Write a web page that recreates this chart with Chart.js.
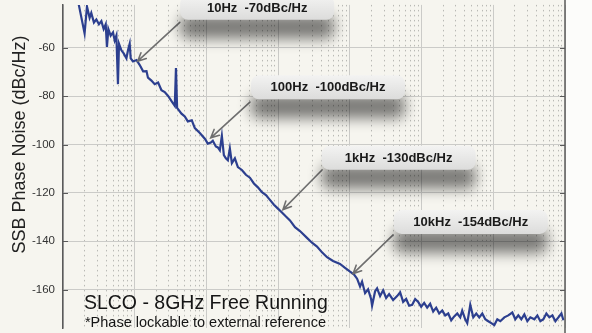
<!DOCTYPE html>
<html>
<head>
<meta charset="utf-8">
<script src="https://cdn.jsdelivr.net/npm/chart.js@4/dist/chart.umd.min.js"></script>
<style>
  html, body { margin: 0; padding: 0; background: #f6f5ef; overflow: hidden; }
  #wrap { position: absolute; left: 0; top: -10px; width: 592px; height: 353px; }
</style>
</head>
<body>
<div id="wrap"><canvas id="chart"></canvas></div>
<script>
// SSB phase noise trace: offset frequency (Hz) and level (dBc/Hz)
const freqHz = [
    1.5, 1.67, 2.0, 2.16, 2.35, 2.48, 2.70, 2.92, 3.17, 3.43, 3.69, 3.94, 4.10, 4.29, 4.62, 4.98,
    5.26, 5.55, 5.84, 6.04, 6.52, 7.02, 7.66, 8.06, 8.51, 8.79, 9.47, 10.6, 11.7, 13.1, 14.6, 15.3,
    17.1, 19.0, 21.2, 23.6, 26.2, 29.2, 32.6, 36.2, 37.6, 39.0, 44.9, 49.9, 55.0, 62.5, 68.9, 80.9,
    95.0, 104.6, 115.2, 122.8, 135.3, 144.3, 153.8, 164.1, 175.0, 186.6, 199.0, 212.2, 226.4, 249.3,
    274.5, 312, 355, 404, 459, 522, 594, 676, 768, 874, 994, 1130, 1285, 1462, 1717, 2015,
    2525, 2965, 3483, 4090, 4806, 5825, 7295, 8570, 10070, 11450, 12610, 13880, 14800, 16300, 17960, 19780,
    20420, 22490, 23990, 26400, 29100, 32060, 35280, 40110, 45620, 50250, 55340, 60960, 67120, 73930, 81430, 89700,
    98700, 108700, 119700, 131800, 145200, 159900, 176100, 194000, 213700, 235400, 259000, 285300, 314300, 346200, 368900, 406300,
    433500, 477500, 525800, 579200, 637300, 702100, 773300, 851800, 938200, 1033000, 1138000, 1253000, 1426000, 1620000, 1842000, 2028000,
    2234000, 2460000, 2710000, 2985000, 3288000, 3740000, 4120000, 4535000, 4995000, 5500000, 6057000, 6670000, 7346000, 8091000, 8912000, 9500000
];
const noiseDbc = [
    -36.0, -42.5, -54.0, -42.9, -47.5, -45.5, -49.5, -48.2, -50.2, -48.9, -52.2, -50.2, -59.6, -52.2, -54.9, -53.6,
    -56.9, -54.9, -75.0, -58.3, -61.0, -62.3, -64.3, -61.0, -58.3, -64.3, -65.6, -65.0, -67.0, -69.7, -69.6, -72.3,
    -73.5, -75.0, -74.3, -77.5, -78.3, -79.9, -82.0, -84.0, -68.3, -84.8, -87.2, -88.4, -90.4, -90.0, -93.2, -95.2,
    -97.6, -99.6, -99.2, -98.4, -100.8, -101.2, -102.4, -96.4, -104.4, -105.7, -106.5, -101.6, -107.7, -105.7,
    -109.3, -110.5, -112.5, -113.7, -116.1, -117.7, -119.7, -120.9, -122.9, -124.9, -126.5, -128.1, -129.8, -131.4, -134.2, -135.8,
    -138.6, -140.6, -142.2, -144.6, -146.6, -148.2, -149.4, -151.0, -152.6, -153.8, -155.5, -158.7, -156.7, -161.5, -159.9, -163.9,
    -166.7, -160.7, -159.5, -162.7, -160.3, -163.5, -161.9, -164.3, -162.7, -161.1, -165.1, -163.9, -166.7, -166.3, -163.9, -165.1,
    -167.1, -165.5, -167.5, -165.9, -169.1, -167.5, -169.9, -168.7, -170.7, -169.9, -172.7, -171.1, -169.9, -171.5, -168.7, -172.3,
    -173.9, -166.3, -171.5, -169.9, -171.5, -169.9, -172.3, -173.1, -173.9, -174.7, -172.3, -173.1, -171.5, -170.7, -169.5, -172.3,
    -170.7, -172.3, -170.3, -173.1, -171.5, -172.3, -170.7, -173.1, -172.3, -169.9, -171.5, -170.7, -173.1, -171.5, -169.9, -172.7
];

const levelTicks = [-160, -140, -120, -100, -80, -60];

// callouts: label, box centre and arrow ends, all in data units (Hz, dBc/Hz)
const calloutText = ['10Hz  -70dBc/Hz', '100Hz  -100dBc/Hz', '1kHz  -130dBc/Hz', '10kHz  -154dBc/Hz'];
const calloutFreq = [510, 4960, 47900, 485000];
const calloutLevel = [-43.4, -76.3, -105.5, -132.0];
const arrowTipFreq = [11, 115, 1167, 11090];
const arrowTipLevel = [-65.5, -97.2, -126.9, -153.4];
const arrowTailFreq = [42.5, 404, 4090, 40100];
const arrowTailLevel = [-49.4, -82.4, -110.5, -137.4];

const COLORS = {
    page: '#f6f5ef',
    margin: '#fcfcfa',
    trace: '#2c3f8f',
    grid: '#cbcbc8',
    minorGrid: '#b9b9b5',
    axis: '#5a5a5a',
    text: '#222222',
    arrow: '#6f6f6f'
};
const FONT = '"Liberation Sans", Arial, Helvetica, sans-serif';

const backdrop = {
    id: 'backdrop',
    beforeDraw(chart) {
        const { ctx, chartArea } = chart;
        ctx.save();
        ctx.fillStyle = COLORS.page;
        ctx.fillRect(0, 0, chart.width, chart.height);
        ctx.fillStyle = COLORS.margin;
        ctx.fillRect(chartArea.right + 1, 0, chart.width - chartArea.right, chart.height);
        ctx.restore();
    }
};

// right-hand axis line plus the short inward ticks on both sides
const frame = {
    id: 'frame',
    afterDraw(chart) {
        const { ctx, chartArea, scales } = chart;
        ctx.save();
        ctx.strokeStyle = COLORS.axis;
        ctx.lineWidth = 1.5;
        ctx.beginPath();
        ctx.moveTo(chartArea.right, 0);
        ctx.lineTo(chartArea.right, chart.height);
        ctx.stroke();
        ctx.lineWidth = 1.2;
        levelTicks.forEach(v => {
            const y = Math.round(scales.y.getPixelForValue(v)) + 0.5;
            ctx.beginPath();
            ctx.moveTo(chartArea.left, y);
            ctx.lineTo(chartArea.left + 5, y);
            ctx.moveTo(chartArea.right - 5, y);
            ctx.lineTo(chartArea.right, y);
            ctx.stroke();
        });

        // y axis title, centred on the -100 level as in the original
        ctx.fillStyle = COLORS.text;
        ctx.font = `18px ${FONT}`;
        ctx.textAlign = 'center';
        ctx.textBaseline = 'middle';
        ctx.translate(20, scales.y.getPixelForValue(-100));
        ctx.rotate(-Math.PI / 2);
        ctx.fillText('SSB Phase Noise (dBc/Hz)', 0, 0);
        ctx.restore();
    }
};

function roundRect(ctx, x, y, w, h, r) {
    ctx.beginPath();
    ctx.moveTo(x + r, y);
    ctx.arcTo(x + w, y, x + w, y + h, r);
    ctx.arcTo(x + w, y + h, x, y + h, r);
    ctx.arcTo(x, y + h, x, y, r);
    ctx.arcTo(x, y, x + w, y, r);
    ctx.closePath();
}

const callouts = {
    id: 'callouts',
    afterDatasetsDraw(chart) {
        const { ctx, scales } = chart;
        const px = f => scales.x.getPixelForValue(f);
        const py = v => scales.y.getPixelForValue(v);
        ctx.save();

        // arrows
        ctx.strokeStyle = COLORS.arrow;
        ctx.lineWidth = 1.6;
        ctx.lineCap = 'round';
        calloutText.forEach((_, i) => {
            const x0 = px(arrowTailFreq[i]), y0 = py(arrowTailLevel[i]);
            const x1 = px(arrowTipFreq[i]), y1 = py(arrowTipLevel[i]);
            const a = Math.atan2(y1 - y0, x1 - x0);
            ctx.beginPath();
            ctx.moveTo(x0, y0);
            ctx.lineTo(x1, y1);
            ctx.moveTo(x1 - 9 * Math.cos(a - 0.45), y1 - 9 * Math.sin(a - 0.45));
            ctx.lineTo(x1, y1);
            ctx.lineTo(x1 - 9 * Math.cos(a + 0.45), y1 - 9 * Math.sin(a + 0.45));
            ctx.stroke();
        });

        // label boxes with a soft dropped shadow
        const w = 154, h = 24;
        calloutText.forEach((label, i) => {
            const cx = px(calloutFreq[i]), cy = py(calloutLevel[i]);
            ctx.save();
            ctx.shadowColor = 'rgba(0, 0, 0, 0.5)';
            ctx.shadowBlur = 14;
            ctx.shadowOffsetY = 19;
            const g = ctx.createLinearGradient(0, cy - h / 2, 0, cy + h / 2);
            g.addColorStop(0, '#f3f3f2');
            g.addColorStop(1, '#dcdcdb');
            ctx.fillStyle = g;
            roundRect(ctx, cx - w / 2, cy - h / 2, w, h, 8);
            ctx.fill();
            ctx.restore();
            ctx.fillStyle = '#1a1a1a';
            ctx.font = `bold 13px ${FONT}`;
            ctx.textAlign = 'center';
            ctx.textBaseline = 'middle';
            ctx.fillText(label, cx, cy + 0.5);
        });

        // product caption
        ctx.fillStyle = '#151515';
        ctx.textAlign = 'center';
        ctx.textBaseline = 'alphabetic';
        ctx.font = `19.5px ${FONT}`;
        ctx.fillText('SLCO - 8GHz Free Running', px(98), py(-168));
        ctx.font = `14.5px ${FONT}`;
        ctx.fillText('*Phase lockable to external reference', px(97), py(-175.5));
        ctx.restore();
    }
};

const isDecade = v => Math.abs(v / Math.pow(10, Math.round(Math.log10(v))) - 1) < 1e-9;

new Chart(document.getElementById('chart'), {
    type: 'line',
    data: {
        datasets: [{
            label: 'SSB phase noise',
            data: freqHz.map((f, i) => ({ x: f, y: noiseDbc[i] })),
            borderColor: COLORS.trace,
            borderWidth: 2.2,
            pointRadius: 0,
            tension: 0,
            fill: false
        }]
    },
    options: {
        responsive: true,
        maintainAspectRatio: false,
        animation: false,
        layout: { padding: { top: 10, bottom: 10, left: 0, right: 27 } },
        plugins: { legend: { display: false }, tooltip: { enabled: false } },
        scales: {
            x: {
                type: 'logarithmic',
                min: 1,
                max: 1e7,
                afterBuildTicks: scale => {
                    const ticks = [];
                    for (let d = 0; d < 7; d++) {
                        for (let m = 1; m < 10; m++) ticks.push({ value: m * Math.pow(10, d) });
                    }
                    ticks.push({ value: 1e7 });
                    ticks.forEach(t => { t.major = isDecade(t.value); });
                    scale.ticks = ticks;
                },
                afterFit: scale => { scale.height = 0; },
                ticks: { display: false },
                grid: {
                    drawTicks: false,
                    lineWidth: 1,
                    color: ctx => (ctx.tick && isDecade(ctx.tick.value)) ? COLORS.grid : COLORS.minorGrid
                },
                border: {
                    display: false,
                    dash: ctx => (ctx.tick && isDecade(ctx.tick.value)) ? [] : [1.5, 3.5]
                }
            },
            y: {
                min: -175.95,
                max: -42.2,
                afterBuildTicks: scale => { scale.ticks = levelTicks.map(v => ({ value: v })); },
                afterFit: scale => { scale.width = 63; },
                ticks: { color: '#333333', padding: 8, font: { family: FONT, size: 11.5 } },
                grid: { drawTicks: false, color: COLORS.grid, lineWidth: 1 },
                border: { display: true, color: COLORS.axis, width: 1.5 }
            }
        }
    },
    plugins: [backdrop, frame, callouts]
});
</script>
</body>
</html>
